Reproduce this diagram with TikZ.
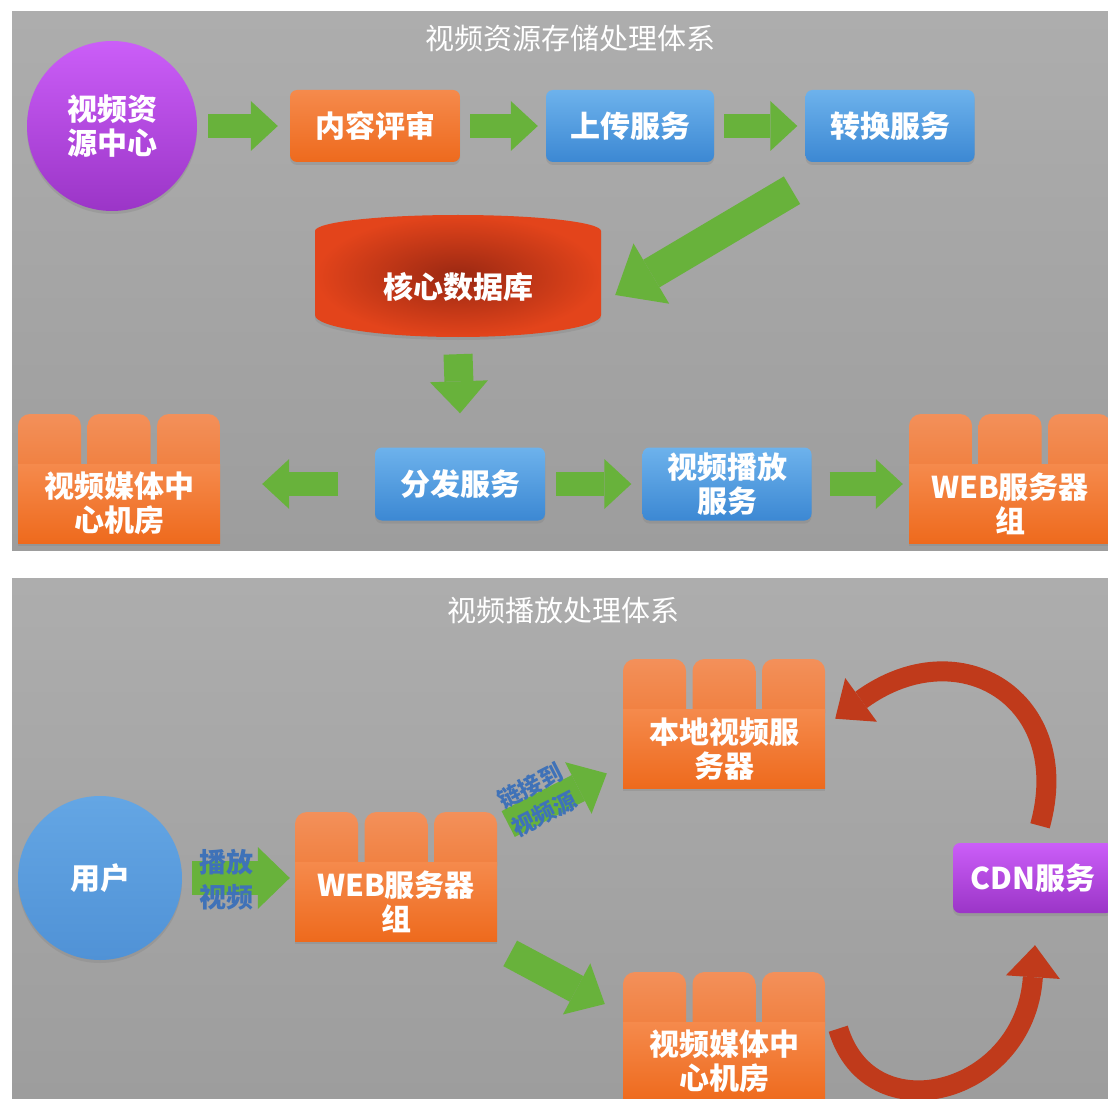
\documentclass[tikz,border=0pt]{standalone}
\usepackage{fontspec}
\setmainfont{Noto Sans CJK SC}
\usetikzlibrary{arrows.meta,shadows,calc}

\definecolor{panelTop}{HTML}{ADADAD}
\definecolor{panelBot}{HTML}{9D9D9D}
\definecolor{orTop}{HTML}{F58A4C}
\definecolor{orBot}{HTML}{EE6A1D}
\definecolor{tabTop}{HTML}{F3905A}
\definecolor{tabBot}{HTML}{F07D3B}
\definecolor{blTop}{HTML}{6DB2EC}
\definecolor{blBot}{HTML}{3C88D3}
\definecolor{puTop}{HTML}{CB5EF8}
\definecolor{puBot}{HTML}{9B35C7}
\definecolor{userTop}{HTML}{64A6E4}
\definecolor{userBot}{HTML}{5092D6}
\definecolor{arrowGreen}{HTML}{68B23B}
\definecolor{ribbonRed}{HTML}{C03A1B}
\definecolor{labelBlue}{HTML}{3F72B8}
\definecolor{dbIn}{HTML}{9A2812}
\definecolor{dbOut}{HTML}{E3441B}

\tikzset{
  boxtext/.style={text=white, font=\bfseries\fontsize{30}{34}\selectfont, align=center},
  paneltitle/.style={text=white, font=\fontsize{29}{34}\selectfont},
  shadowed/.style={drop shadow={opacity=0.3, shadow xshift=0pt, shadow yshift=-3pt}},
  card/.style={boxtext, rectangle, rounded corners=7pt, minimum height=72pt,
    inner sep=0pt, shadowed},
  bluecard/.style={card, top color=blTop, bottom color=blBot},
  orangecard/.style={card, top color=orTop, bottom color=orBot},
  purplecard/.style={card, top color=puTop, bottom color=puBot},
  srvbody/.style={boxtext, rectangle, minimum width=202pt, minimum height=79pt,
    inner sep=0pt, top color=orTop, bottom color=orBot, shadowed},
  srvtab/.style={top color=tabTop, bottom color=tabBot},
  flow/.style={draw=arrowGreen, line width=24pt,
    -{Triangle[width=50pt,length=27pt,line width=0pt]}},
  flowdiag/.style={draw=arrowGreen, line width=32pt,
    -{Triangle[width=70pt,length=42pt,line width=0pt]}},
  flowdown/.style={draw=arrowGreen, line width=29pt,
    -{Triangle[width=58pt,length=32pt,line width=0pt]}},
  flowplay/.style={draw=arrowGreen, line width=34pt,
    -{Triangle[width=62pt,length=32pt,line width=0pt]}},
  flowside/.style={draw=arrowGreen, line width=29pt,
    -{Triangle[width=58pt,length=32pt,line width=0pt]}},
  ribbon/.style={draw=ribbonRed, line width=20pt,
    -{Triangle[width=54pt,length=32pt,line width=0pt]}},
  edgelabel/.style={text=labelBlue, align=center},
}

% server rack: three rounded tabs above an orange body
\newcommand\serverunit[4]{%
  \foreach \k in {-1,0,1}{
    \path[srvtab, rounded corners=12pt]
      (#2+\k*69.5-31.5, #3+16) rectangle (#2+\k*69.5+31.5, #3-50);
  }
  \node[srvbody, anchor=north] (#1) at (#2,#3) {#4};
}

\begin{document}
\begin{tikzpicture}[x=1pt,y=-1pt]
\useasboundingbox (0,0) rectangle (1108,1099);
\fill[white] (0,0) rectangle (1108,1099);

% ---------------- storage panel ----------------
\begin{scope}
\clip (12,12) rectangle (1108,550);
\shade[top color=panelTop, bottom color=panelBot] (12,12) rectangle (1108,550);
\node[paneltitle] (t1) at (570,38) {视频资源存储处理体系};

\node[boxtext, circle, minimum size=170pt, inner sep=0pt, top color=puTop,
  bottom color=puBot, shadowed] (src) at (112,126) {视频资\\源中心};
\node[orangecard, minimum width=170pt] (rev) at (375,126) {内容评审};
\node[bluecard, minimum width=168pt] (up) at (630,126) {上传服务};
\node[bluecard, minimum width=169pt] (conv) at (890,126) {转换服务};

% core database cylinder
\shade[inner color=dbIn, outer color=dbOut, shadowed]
  (315,231) arc[start angle=180, end angle=360, x radius=143, y radius=16]
  -- (601,315) arc[start angle=0, end angle=180, x radius=143, y radius=22] -- cycle;
\node[minimum width=286pt, minimum height=124pt] (db) at (458,276) {};
\node[boxtext] (dblabel) at (458,287) {核心数据库};

\node[bluecard, minimum width=170pt, minimum height=73pt] (dist) at (460,484) {分发服务};
\node[bluecard, minimum width=169pt, minimum height=73pt] (play) at (727,484) {视频播放\\服务};

\serverunit{s1}{119}{464}{视频媒体中\\心机房}
\serverunit{s2}{1010}{464}{WEB服务器\\组}

\draw[flow] ([xshift=11pt]src.east) -- ([xshift=-12pt]rev.west);
\draw[flow] ([xshift=10pt]rev.east) -- ([xshift=-8pt]up.west);
\draw[flow] ([xshift=10pt]up.east) -- ([xshift=-8pt]conv.west);
\coordinate (d1) at ($(conv.south)+(-98,28)$);
\coordinate (d2) at ($(db.east)+(14,19)$);
\draw[flowdiag] (d1) -- (d2);
\draw[flowdown] ([yshift=-16pt]db.south) -- ([yshift=34pt]dist.north);
\draw[flow] ([xshift=-37pt]dist.west) -- ($(s1.east |- dist.west)+(42,0)$);
\draw[flow] ([xshift=11pt]dist.east) -- ([xshift=-11pt]play.west);
\draw[flow] ([xshift=18pt]play.east) -- ($(s2.west |- play.east)+(-6,0)$);
\end{scope}

% ---------------- playback panel ----------------
\begin{scope}
\clip (12,578) rectangle (1108,1099);
\shade[top color=panelTop, bottom color=panelBot] (12,578) rectangle (1108,1099);
\node[paneltitle] (t2) at (563,610) {视频播放处理体系};

\node[boxtext, circle, minimum size=164pt, inner sep=0pt, top color=userTop,
  bottom color=userBot, shadowed] (user) at (100,878) {用户};

\serverunit{s3}{396}{862}{WEB服务器\\组}
\serverunit{s4}{724}{709}{本地视频服\\务器}
\serverunit{s5}{724}{1022}{视频媒体中\\心机房}

\node[purplecard, minimum width=160pt, minimum height=70pt] (cdn) at (1033,878) {CDN服务};

\draw[flowplay] ([xshift=10pt]user.east) -- ($(s3.west |- user.east)+(-5,0)$);
\node[edgelabel, font=\bfseries\fontsize{27}{35}\selectfont] (playlbl) at (226,880) {播放\\视频};

\draw[flowside] ($(s3.north east)+(11,-38)$) -- ($(s4.south west)+(-16,-15)$);
\node[edgelabel, font=\bfseries\fontsize{23}{31}\selectfont, rotate=27] (linklbl) at (537,800) {链接到\\视频源};

\draw[flowside] ($(s3.south east)+(13,12)$) -- ($(s5.north west)+(-18,-18)$);

\draw[ribbon] ($(cdn.north)+(7,-17)$) .. controls (1075,700) and (960,628) .. ($(s4.east)+(10,-30)$);
\draw[ribbon] ($(s5.east)+(13,-33)$) .. controls (870,1135) and (1025,1095) .. ($(cdn.south)+(2,32)$);
\end{scope}
\end{tikzpicture}
\end{document}
